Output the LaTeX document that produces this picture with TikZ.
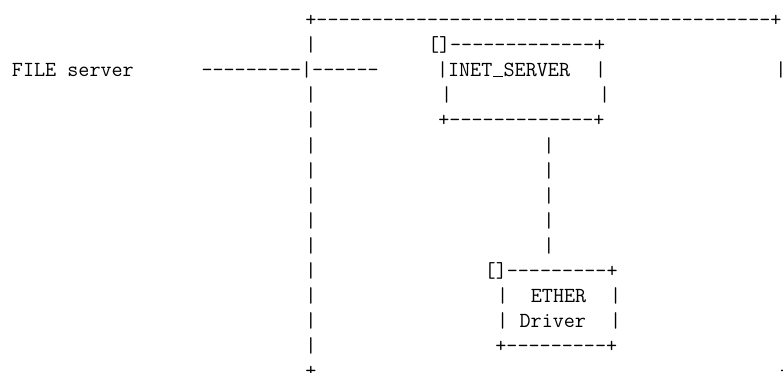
\documentclass[tikz,border=0pt]{standalone}
\ExplSyntaxOn
% a run of separate hyphens (kerns keep them from merging into dashes)
\cs_new:Npn \artdashes #1 { \prg_replicate:nn {#1} { -\kern0pt } }
\ExplSyntaxOff
% typewriter underscore sitting on the baseline
\newcommand\artus{\makebox[0.525em][c]{\rule[-0.02em]{0.42em}{0.065em}}}
\tikzset{
  art/.style={anchor=base west, inner sep=0pt, outer sep=0pt,
    font=\ttfamily\fontsize{21.5}{25}\selectfont},
}
\begin{document}
\begin{tikzpicture}[x=1pt,y=-1pt]
\useasboundingbox (0,0) rectangle (783,372);
\clip (0,0) rectangle (783,372);
% baseline of text row i
\def\rowy#1{26.5+25.1*#1}

% outer frame
\node[art] (frameTop) at (305.4,{\rowy{0}}) {+\artdashes{41}+};
\foreach \i in {1,3,4,...,13}
  \node[art] (frameL\i) at (305.4,{\rowy{\i}}) {|};
\node[art] (frameBotL) at (305.4,{\rowy{14}}) {+};
\node[art] (frameBotR) at (780.0,{\rowy{14}}) {+};

% file server line into the frame
\node[art] (fileLabel) at (12,{\rowy{2}}) {FILE server};
\node[art] (fileLink) at (201.5,{\rowy{2}}) {\artdashes{9}|\artdashes{6}};
\node[art] (frameR) at (775.4,{\rowy{2}}) {|};

% INET_SERVER box
\node[art] (inetTop) at (428,{\rowy{1}}) {[]\artdashes{13}+};
\node[art] (inetLabel) at (437,{\rowy{2}}) {|INET\artus SERVER};
\node[art] (inetR1) at (595.2,{\rowy{2}}) {|};
\node[art] (inetL2) at (441,{\rowy{3}}) {|};
\node[art] (inetR2) at (599.2,{\rowy{3}}) {|};
\node[art] (inetBot) at (438.4,{\rowy{4}}) {+\artdashes{13}+};

% link down to the driver
\foreach \i in {5,...,9}
  \node[art] (link\i) at (543.4,{\rowy{\i}}) {|};

% ETHER Driver box
\node[art] (etherTop) at (484.7,{\rowy{10}}) {[]\artdashes{9}+};
\node[art] (etherL1) at (497,{\rowy{11}}) {|};
\node[art] (etherLabel) at (530.9,{\rowy{11}}) {ETHER};
\node[art] (etherR1) at (610,{\rowy{11}}) {|};
\node[art] (etherL2) at (497,{\rowy{12}}) {|};
\node[art] (driverLabel) at (519.6,{\rowy{12}}) {Driver};
\node[art] (etherR2) at (610,{\rowy{12}}) {|};
\node[art] (etherBot) at (495.4,{\rowy{13}}) {+\artdashes{9}+};
\end{tikzpicture}
\end{document}
